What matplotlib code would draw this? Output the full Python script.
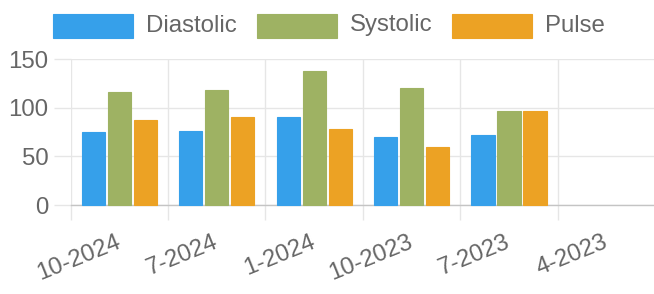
import matplotlib
matplotlib.use("Agg")
import matplotlib.pyplot as plt
from matplotlib.patches import Rectangle
from matplotlib.transforms import ScaledTranslation
import numpy as np

categories = ["10-2024", "7-2024", "1-2024", "10-2023", "7-2023", "4-2023"]
diastolic = [75, 76, 90, 70, 72, None]
systolic = [116, 118, 138, 120, 97, None]
pulse = [87, 90, 78, 60, 97, None]
series_names = ["Diastolic", "Systolic", "Pulse"]
colors = ["#36A0EA", "#9EB263", "#ECA224"]
y_ticks = [0, 50, 100, 150]

plt.rcParams['font.family'] = ['Liberation Sans', 'DejaVu Sans']
W, H = 654, 294
fig = plt.figure(figsize=(W / 100, H / 100), dpi=100)
left, right, top, bottom = 70.5, 655.4, 59, 205
ax = fig.add_axes([left / W, 1 - bottom / H, (right - left) / W, (bottom - top) / H])

grid_c = "#E6E6E6"
zero_c = "#C4C4C4"
text_c = "#666666"
fs = 17.3

x = np.arange(len(categories))
series = [diastolic, systolic, pulse]
bw = 0.8 / 3 * 0.9
for i, (vals, col) in enumerate(zip(series, colors)):
    v = np.array([np.nan if a is None else a for a in vals], dtype=float)
    ax.bar(x + (i - 1) * 0.8 / 3, v, width=bw, color=col, edgecolor=col,
           linewidth=0.8, zorder=3, clip_on=False)

ax.set_xlim(-0.5, len(categories) - 0.5)
ax.set_ylim(0, 150)
ax.set_yticks(y_ticks)
ax.set_yticklabels([str(t) for t in y_ticks])
ax.set_xticks(x)
ax.set_xticklabels(categories, rotation=22, ha='right', rotation_mode='anchor')
ax.set_xticks(np.arange(-0.5, len(categories), 1.0), minor=True)

ax.tick_params(axis='x', which='major', length=0, pad=19, labelsize=fs, labelcolor=text_c)
ax.tick_params(axis='x', which='minor', length=10.8, width=1, color=grid_c)
ax.tick_params(axis='y', which='major', length=12, width=1, color=grid_c, pad=4,
               labelsize=fs, labelcolor=text_c)
offset = ScaledTranslation(-4 / 100, 0, fig.dpi_scale_trans)
for lab in ax.get_xticklabels():
    lab.set_transform(lab.get_transform() + offset)

ax.grid(True, axis='y', which='major', color=grid_c, linewidth=1, alpha=1, zorder=0)
ax.grid(True, axis='x', which='minor', color=grid_c, linewidth=1, alpha=1, zorder=0)
for s in ['top', 'right', 'left']:
    ax.spines[s].set_visible(False)
ax.spines['bottom'].set_color(zero_c)
ax.spines['bottom'].set_linewidth(1)
ax.set_facecolor('none')

# legend
box_x = [53, 257, 452]
for bx, name, col in zip(box_x, series_names, colors):
    fig.add_artist(Rectangle((bx / W, 1 - 37.7 / H), 80 / W, 23.7 / H,
                             transform=fig.transFigure, facecolor=col,
                             edgecolor=col, linewidth=0.8))
    fig.text((bx + 93) / W, 1 - 25.5 / H, name, fontsize=fs, color=text_c,
             ha='left', va='center')

fig.savefig("out.png", dpi=100)
